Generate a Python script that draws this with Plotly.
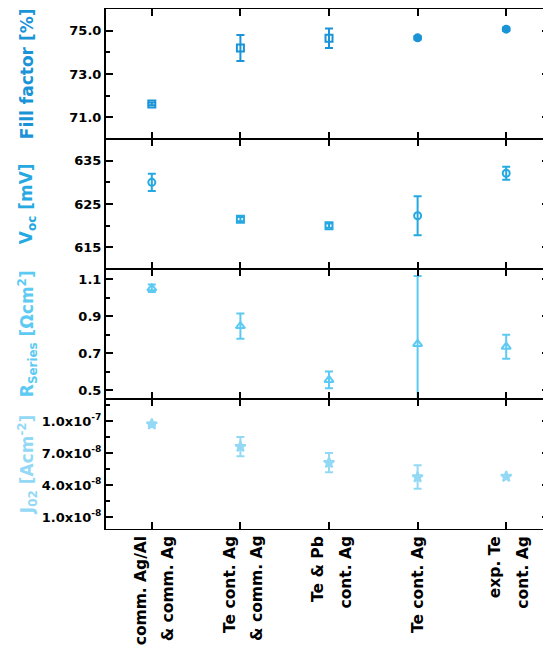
import plotly.graph_objects as go
from plotly.subplots import make_subplots

# ---------------- data ----------------
category_lines = [
    ["comm. Ag/Al", "& comm. Ag"],
    ["Te cont. Ag", "& comm. Ag"],
    ["Te & Pb", "cont. Ag"],
    ["Te cont. Ag"],
    ["exp. Te", "cont. Ag"],
]
x_pos = list(range(len(category_lines)))

fill_factor = [71.62, 74.20, 74.65, 74.67, 75.07]
fill_factor_err = [0.06, 0.60, 0.45, 0.08, 0.08]

voc = [630.0, 621.5, 620.0, 622.3, 632.1]
voc_err = [2.0, 0.5, 0.5, 4.5, 1.5]

r_series = [1.050, 0.846, 0.556, 0.750, 0.735]
r_series_err = [0.020, 0.068, 0.045, 0.366, 0.065]

j02 = [9.70e-8, 7.60e-8, 6.10e-8, 4.75e-8, 4.80e-8]
j02_err = [0.15e-8, 0.90e-8, 0.90e-8, 1.10e-8, 0.0]

j02_tickvals = [1.0e-8, 4.0e-8, 7.0e-8, 1.0e-7]
j02_ticktext = ["1.0x10<sup>-8</sup>", "4.0x10<sup>-8</sup>",
                "7.0x10<sup>-8</sup>", "1.0x10<sup>-7</sup>"]

# ---------------- style ----------------
FONT = "DejaVu Sans"
C_FF = "#1a94d6"
C_VOC = "#26a9e1"
C_RS = "#5ccaf2"
C_J = "#93d9f5"

panels = [
    dict(y=fill_factor, e=fill_factor_err, c=C_FF,
         sym=["square-open", "square-open", "square-open", "circle", "circle"], size=7,
         title="Fill factor [%]"),
    dict(y=voc, e=voc_err, c=C_VOC,
         sym=["circle-open", "square-open", "square-open", "circle-open", "circle-open"], size=7,
         title="V<sub>oc</sub> [mV]"),
    dict(y=r_series, e=r_series_err, c=C_RS,
         sym=["triangle-up-open"] * 5, size=8,
         title="R<sub>Series</sub> [Ωcm<sup>2</sup>]"),
    dict(y=j02, e=j02_err, c=C_J,
         sym=["star"] * 5, size=8,
         title="J<sub>02</sub> [Acm<sup>-2</sup>]"),
]

fig = make_subplots(rows=4, cols=1, shared_xaxes=True, vertical_spacing=0)

for i, p in enumerate(panels, start=1):
    fig.add_trace(go.Scatter(
        x=x_pos, y=p["y"], mode="markers",
        marker=dict(symbol=p["sym"], size=p["size"], color=p["c"],
                    line=dict(color=p["c"], width=2)),
        error_y=dict(type="data", array=p["e"], visible=True,
                     color=p["c"], thickness=2, width=4),
        showlegend=False), row=i, col=1)
    yref = "y domain" if i == 1 else f"y{i} domain"
    fig.add_annotation(text=p["title"], textangle=-90, xref="paper", yref=yref,
                       x=-0.178, y=0.5, xanchor="center", yanchor="middle",
                       showarrow=False,
                       font=dict(family=FONT, size=17, color=p["c"], weight="bold"))

axis_common = dict(showline=True, linecolor="black", linewidth=2, mirror="ticks",
                   ticks="inside", ticklen=7, tickwidth=2, tickcolor="black",
                   showgrid=False, zeroline=False,
                   tickfont=dict(family=FONT, size=13, color="black", weight="bold"))

for i in range(1, 5):
    fig.update_xaxes(axis_common, row=i, col=1, range=[-0.517, 4.483],
                     linewidth=1.3,
                     tickmode="array", tickvals=x_pos, showticklabels=False)

fig.update_yaxes(axis_common, row=1, col=1, range=[70, 76], tickmode="linear",
                 tick0=71, dtick=2, tickformat=".1f",
                 minor=dict(ticks="inside", ticklen=4, tickwidth=2, tickcolor="black",
                            tick0=70, dtick=1))
fig.update_yaxes(axis_common, row=2, col=1, range=[610, 640], tickmode="linear",
                 tick0=615, dtick=10,
                 minor=dict(ticks="inside", ticklen=4, tickwidth=2, tickcolor="black",
                            tick0=610, dtick=5))
fig.update_yaxes(axis_common, row=3, col=1, range=[0.453, 1.154], tickmode="linear",
                 tick0=0.5, dtick=0.2, tickformat=".1f",
                 minor=dict(ticks="inside", ticklen=4, tickwidth=2, tickcolor="black",
                            tick0=0.5, dtick=0.1))
fig.update_yaxes(axis_common, row=4, col=1, range=[-0.11e-8, 12.06e-8], tickmode="array",
                 tickvals=j02_tickvals, ticktext=j02_ticktext,
                 minor=dict(ticks="inside", ticklen=4, tickwidth=2, tickcolor="black",
                            tick0=1.0e-8, dtick=1.5e-8))

# category labels (rotated, multi-line) below bottom panel
for xi, lines in zip(x_pos, category_lines):
    offsets = [0] if len(lines) == 1 else [-11, 16]
    for line, off in zip(lines, offsets):
        fig.add_annotation(text=line, textangle=-90, xref="x4", yref="paper",
                           x=xi, y=0, xanchor="center", yanchor="top",
                           xshift=off, yshift=-5, showarrow=False,
                           font=dict(family=FONT, size=15.5, color="black", weight="bold"))

# page body has an 8px default margin; size the figure to fill the 551x647 window
fig.update_layout(width=543, height=639,
                  margin=dict(l=98, r=0, t=1, b=118),
                  paper_bgcolor="white", plot_bgcolor="white",
                  font=dict(family=FONT))

fig.write_html("out.html")
